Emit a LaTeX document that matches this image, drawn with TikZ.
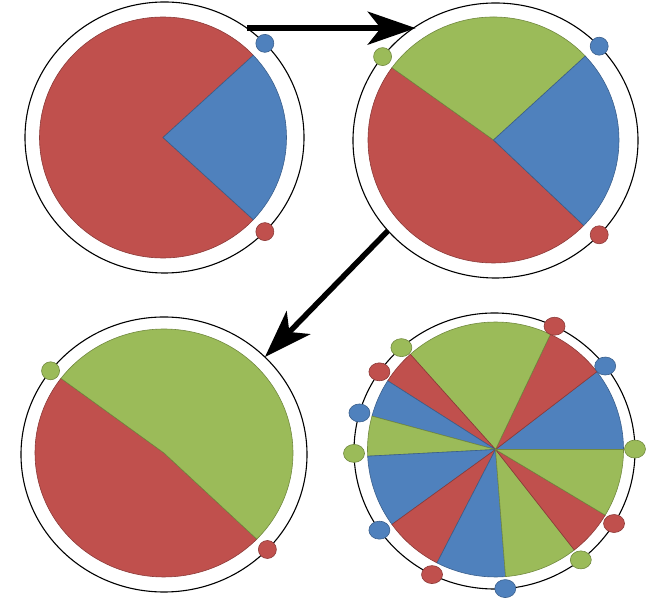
\documentclass[tikz,border=0pt]{standalone}
\usetikzlibrary{arrows.meta,shapes.geometric}
\definecolor{pred}{HTML}{C0504D}
\definecolor{pblue}{HTML}{4F81BD}
\definecolor{pgreen}{HTML}{9BBB59}
\definecolor{predd}{HTML}{8C3A38}
\definecolor{pblued}{HTML}{3A5F8C}
\definecolor{pgreend}{HTML}{71893F}
\newcommand\pieslice[4]{\filldraw[#1] (0,0) -- (#2:#4) arc[start angle=#2, end angle=#3, radius=#4] -- cycle;}
\newcommand\ringdot[5]{\filldraw[#1] (#2:#3 and #4) ellipse[x radius=#5, y radius=9];}
\begin{document}
\begin{tikzpicture}[x=1pt,y=1pt,
  ring/.style={ellipse, draw=black, line width=1.1pt, inner sep=0pt, outer sep=0pt},
  bigarrow/.style={line width=5.5pt, -{Stealth[length=48pt,width=33pt,inset=13pt]}},
  rs/.style={fill=pred, draw=predd, line width=0.6pt},
  bs/.style={fill=pblue, draw=pblued, line width=0.6pt},
  gs/.style={fill=pgreen, draw=pgreend, line width=0.6pt},
  rd/.style={fill=pred, draw=predd, line width=0.6pt},
  bd/.style={fill=pblue, draw=pblued, line width=0.6pt},
  gd/.style={fill=pgreen, draw=pgreend, line width=0.6pt}]
\useasboundingbox (0,0) rectangle (651,599);
% rings
\node[ring, minimum width=279pt, minimum height=271pt] (c1) at (164.5,461.5) {};
\node[ring, minimum width=285pt, minimum height=275pt] (c2) at (495.5,458.5) {};
\node[ring, minimum width=286pt, minimum height=275pt] (c3) at (164,144.5) {};
\node[ring, minimum width=281pt, minimum height=276pt] (c4) at (494.5,148) {};
% pie 1
\begin{scope}[shift={(163,461.5)}, yscale=0.9757]
\pieslice{rs}{43}{317}{123.5}
\pieslice{bs}{-43}{43}{123.5}
\end{scope}
% pie 2
\begin{scope}[shift={(493.5,459)}, yscale=0.9801]
\pieslice{rs}{144}{316}{125.5}
\pieslice{gs}{43}{144}{125.5}
\pieslice{bs}{-44}{43}{125.5}
\end{scope}
% pie 3
\begin{scope}[shift={(164,146)}, yscale=0.9612]
\pieslice{rs}{143}{316}{129}
\pieslice{gs}{-44}{143}{129}
\end{scope}
% pie 4
\begin{scope}[shift={(495.5,149.5)}, yscale=0.996]
\pieslice{bs}{0}{37.6}{128}
\pieslice{rs}{37.6}{64.6}{128}
\pieslice{gs}{64.6}{131.7}{128}
\pieslice{rs}{131.7}{147.4}{128}
\pieslice{bs}{147.4}{164.8}{128}
\pieslice{gs}{164.8}{183}{128}
\pieslice{bs}{183}{216}{128}
\pieslice{rs}{216}{242.8}{128}
\pieslice{bs}{242.8}{274.5}{128}
\pieslice{gs}{274.5}{308}{128}
\pieslice{rs}{308}{329}{128}
\pieslice{gs}{329}{360}{128}
\end{scope}
% arrows
\coordinate (a1s) at (c1.53.7);
\coordinate (a1e) at (c2.125.6);
\draw[bigarrow] (a1s) -- (a1s -| a1e);
\draw[bigarrow] (c2.220.4) -- (c3.44.6);
% dots
\begin{scope}[shift={(164.5,461.5)}]
\ringdot{bd}{44}{139.5}{135.5}{9}
\ringdot{rd}{-44}{139.5}{135.5}{9}
\end{scope}
\begin{scope}[shift={(495.5,458.5)}]
\ringdot{bd}{43.3}{142.5}{137.5}{9}
\ringdot{rd}{-43.3}{142.5}{137.5}{9}
\ringdot{gd}{142.4}{142.5}{137.5}{9}
\end{scope}
\begin{scope}[shift={(164,144.5)}]
\ringdot{gd}{142.5}{143}{137.5}{9}
\ringdot{rd}{-43.7}{143}{137.5}{9}
\end{scope}
\begin{scope}[shift={(494.5,148)}]
\ringdot{bd}{38}{140.5}{138}{10.5}
\ringdot{rd}{64.7}{140.5}{138}{10.5}
\ringdot{gd}{131.5}{140.5}{138}{10.5}
\ringdot{rd}{145}{140.5}{138}{10.5}
\ringdot{bd}{164}{140.5}{138}{10.5}
\ringdot{gd}{181}{140.5}{138}{10.5}
\ringdot{bd}{215}{140.5}{138}{10.5}
\ringdot{rd}{243.6}{140.5}{138}{10.5}
\ringdot{bd}{274.4}{140.5}{138}{10.5}
\ringdot{gd}{307.9}{140.5}{138}{10.5}
\ringdot{rd}{328.3}{140.5}{138}{10.5}
\ringdot{gd}{0.8}{140.5}{138}{10.5}
\end{scope}
\end{tikzpicture}
\end{document}
